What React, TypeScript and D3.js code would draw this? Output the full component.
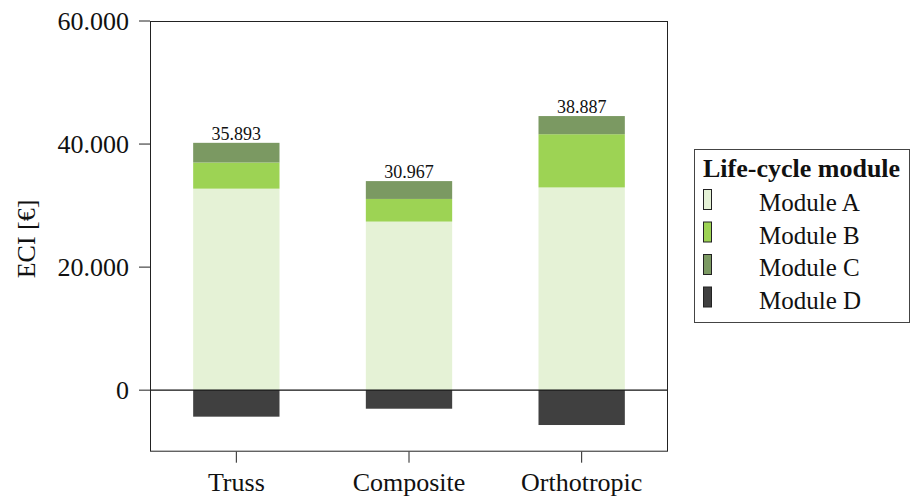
import React from "react";
import * as d3 from "d3";

// Bridge types and their environmental cost indicator per life-cycle module
const categories = ["Truss", "Composite", "Orthotropic"];
const moduleKeys = ["Module A", "Module B", "Module C", "Module D"];
const moduleA = [32750, 27400, 32950];
const moduleB = [4250, 3680, 8650];
const moduleC = [3200, 2900, 2950];
const moduleD = [-4307, -3013, -5663];
const yTicks = [0, 20000, 40000, 60000];
const moduleColors = ["#e5f2d6", "#9dd354", "#7b9962", "#404040"];

const W = 912;
const H = 497;
const FONT = "'Liberation Serif', 'Times New Roman', serif";

const fmt = (v: number) => d3.format(",")(Math.round(v)).replace(/,/g, ".");

export default function App() {
  const rows = categories.map((c, i) => ({
    category: c,
    "Module A": moduleA[i],
    "Module B": moduleB[i],
    "Module C": moduleC[i],
    "Module D": moduleD[i],
  }));

  const x0 = 150;
  const x1 = 668;
  const yTop = 21;
  const yBottom = 451.7;

  const x = d3.scaleBand<string>().domain(categories).range([x0, x1]).paddingInner(0.5).paddingOuter(0.25);
  const y = d3.scaleLinear().domain([-10000, 60000]).range([yBottom, yTop]);

  const series = d3
    .stack<any>()
    .keys(moduleKeys)
    .offset(d3.stackOffsetDiverging)(rows);

  const totals = rows.map((r) => moduleKeys.reduce((s, k) => s + (r as any)[k], 0));
  const positiveTop = rows.map((r) => moduleKeys.reduce((s, k) => s + Math.max(0, (r as any)[k]), 0));

  const panelBottom = y(-10000);

  return (
    <div style={{ position: "absolute", left: 0, top: 0 }}>
      <svg width={W} height={H} style={{ display: "block", fontFamily: FONT }}>
        <rect x={0} y={0} width={W} height={H} fill="#ffffff" />

        {/* stacked bars */}
        {series.map((s, si) => (
          <g key={s.key} fill={moduleColors[si]}>
            {s.map((d, i) => (
              <rect
                key={i}
                x={x(categories[i])}
                width={x.bandwidth()}
                y={y(Math.max(d[0], d[1]))}
                height={Math.abs(y(d[0]) - y(d[1]))}
              />
            ))}
          </g>
        ))}

        {/* net totals above the bars */}
        {categories.map((c, i) => (
          <text
            key={c}
            x={(x(c) as number) + x.bandwidth() / 2}
            y={y(positiveTop[i]) - 3}
            textAnchor="middle"
            fontSize={18}
            fill="#111"
          >
            {fmt(totals[i])}
          </text>
        ))}

        {/* zero line */}
        <line x1={x0} x2={x1} y1={y(0)} y2={y(0)} stroke="#111" strokeWidth={1.2} />

        {/* panel border */}
        <rect
          x={x0 + 0.5}
          y={yTop + 0.5}
          width={x1 - x0 - 1}
          height={panelBottom - yTop - 1}
          fill="none"
          stroke="#222"
          strokeWidth={1}
        />

        {/* y axis */}
        {yTicks.map((t) => (
          <g key={t} transform={`translate(0,${y(t)})`}>
            <line x1={139} x2={x0} stroke="#222" strokeWidth={1} />
            <text x={129} y={9} textAnchor="end" fontSize={26} fill="#111">
              {fmt(t)}
            </text>
          </g>
        ))}
        <text
          transform={`translate(35,239) rotate(-90)`}
          textAnchor="middle"
          fontSize={26}
          fill="#111"
        >
          ECI [€]
        </text>

        {/* x axis */}
        {categories.map((c) => {
          const cx = (x(c) as number) + x.bandwidth() / 2;
          return (
            <g key={c} transform={`translate(${cx},0)`}>
              <line y1={panelBottom} y2={panelBottom + 11} stroke="#222" strokeWidth={1} />
              <text y={491} textAnchor="middle" fontSize={26} fill="#111">
                {c}
              </text>
            </g>
          );
        })}

        {/* legend */}
        <g>
          <rect x={694.5} y={149.5} width={215} height={173} fill="#fff" stroke="#444" strokeWidth={1} />
          <text x={703} y={177} fontSize={26} fontWeight="bold" fill="#111">
            Life-cycle module
          </text>
          {moduleKeys.map((k, i) => (
            <g key={k} transform={`translate(0,${i * 32.5})`}>
              <rect x={703.5} y={189.5} width={8} height={20} fill={moduleColors[i]} stroke="#222" strokeWidth={1} />
              <text x={759} y={211} fontSize={25} fill="#111">
                {k}
              </text>
            </g>
          ))}
        </g>
      </svg>
    </div>
  );
}
